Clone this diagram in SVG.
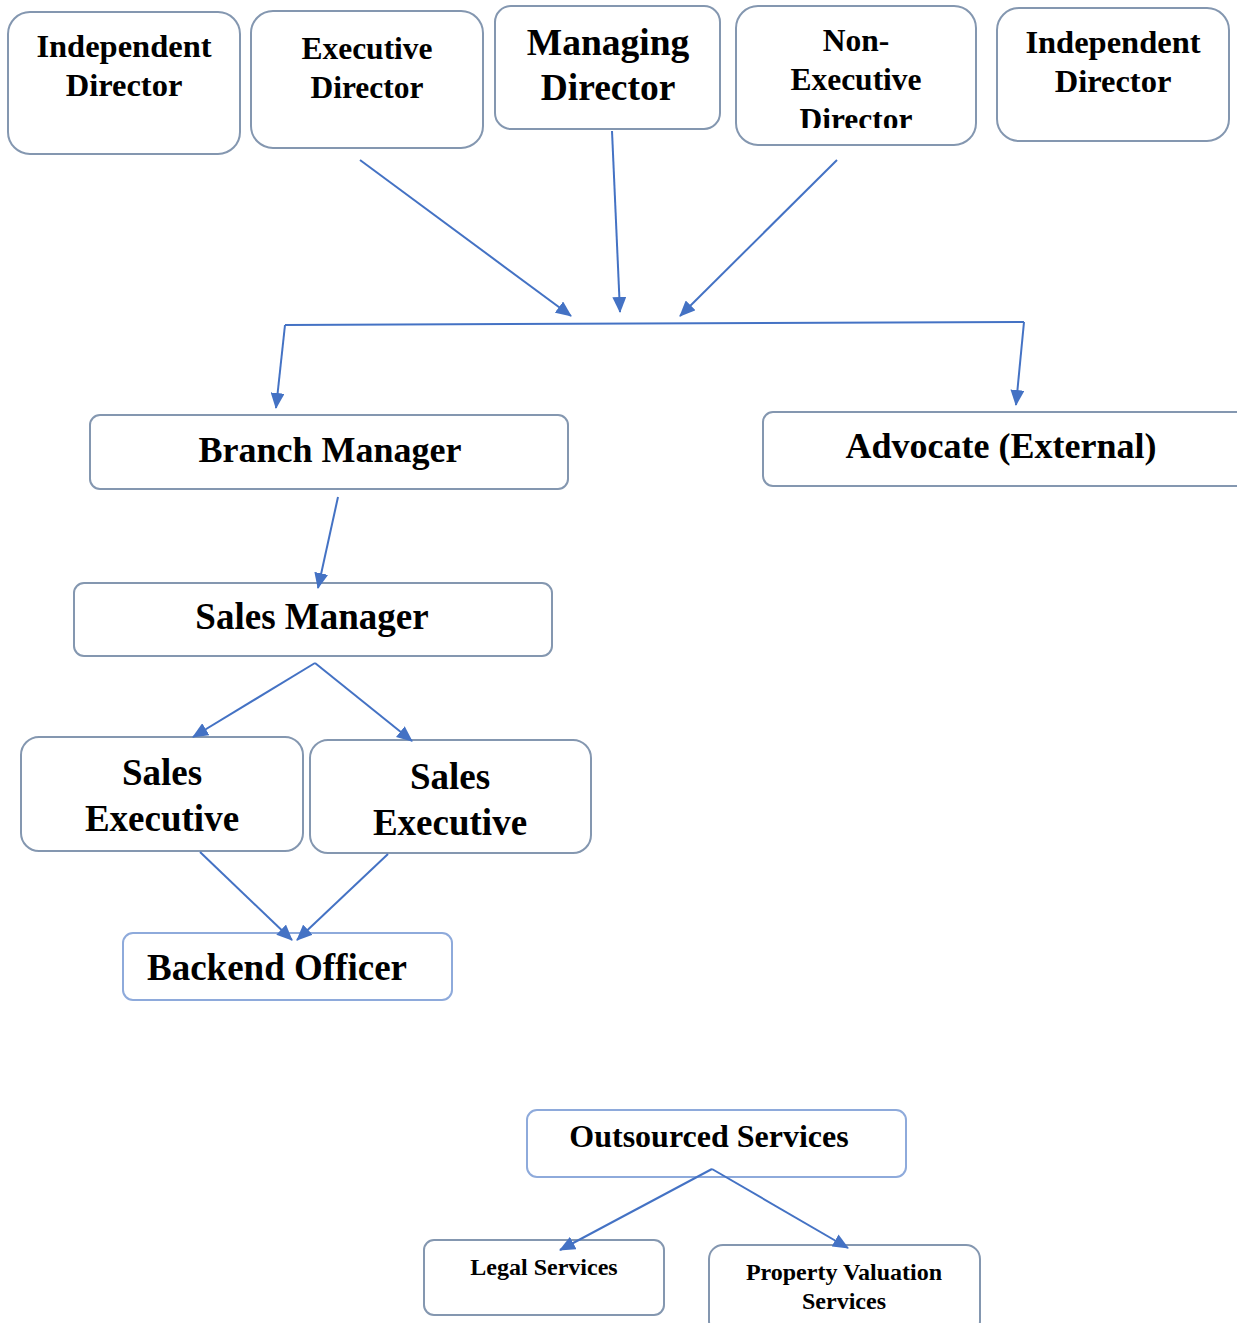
<svg xmlns="http://www.w3.org/2000/svg" width="1237" height="1323" viewBox="0 0 1237 1323">
<style>
.box{fill:#fff;stroke:#8497b0;stroke-width:2}
.box2{fill:#fff;stroke:#8eaadb;stroke-width:2}
.t{font-family:"Liberation Serif","Times New Roman",serif;font-weight:bold;fill:#000;text-anchor:middle}
.c{fill:none;stroke:#4472c4;stroke-width:2}
</style>
<defs>
<marker id="ah" markerUnits="userSpaceOnUse" markerWidth="16" markerHeight="14" refX="15" refY="7" orient="auto">
<path d="M0,0 L16,7 L0,14 z" fill="#4472c4"/>
</marker>
<clipPath id="nclip"><rect x="736" y="6" width="241" height="122"/></clipPath>
</defs>
<g id="n1"><rect class="box" x="8" y="12" width="232" height="142" rx="22"/>
<text class="t" x="124" y="57" font-size="32.5">Independent</text><text class="t" x="124" y="96" font-size="32.5">Director</text></g>
<g id="n2"><rect class="box" x="251" y="11" width="232" height="137" rx="22"/>
<text class="t" x="367" y="59" font-size="31.5">Executive</text><text class="t" x="367" y="98" font-size="31.5">Director</text></g>
<g id="n3"><rect class="box" x="495" y="6" width="225" height="123" rx="16"/>
<text class="t" x="608" y="55" font-size="37.5">Managing</text><text class="t" x="608" y="100" font-size="37.5">Director</text></g>
<g id="n4"><rect class="box" x="736" y="6" width="240" height="139" rx="22"/>
<g clip-path="url(#nclip)"><text class="t" x="856" y="51" font-size="31.5">Non-</text><text class="t" x="856" y="90" font-size="31.5">Executive</text><text class="t" x="856" y="130" font-size="31.5">Director</text></g></g>
<g id="n5"><rect class="box" x="997" y="8" width="232" height="133" rx="22"/>
<text class="t" x="1113" y="53" font-size="32.5">Independent</text><text class="t" x="1113" y="92" font-size="32.5">Director</text></g>
<g id="n6"><rect class="box" x="90" y="415" width="478" height="74" rx="10"/>
<text class="t" x="330" y="462" font-size="36">Branch Manager</text></g>
<g id="n7"><rect class="box" x="763" y="412" width="490" height="74" rx="10"/>
<text class="t" x="1001" y="458" font-size="36">Advocate (External)</text></g>
<g id="n8"><rect class="box" x="74" y="583" width="478" height="73" rx="10"/>
<text class="t" x="312" y="629" font-size="37">Sales Manager</text></g>
<g id="n9"><rect class="box" x="21" y="737" width="282" height="114" rx="18"/>
<text class="t" x="162" y="785" font-size="37">Sales</text><text class="t" x="162" y="831" font-size="37">Executive</text></g>
<g id="n10"><rect class="box" x="310" y="740" width="281" height="113" rx="18"/>
<text class="t" x="450" y="789" font-size="37">Sales</text><text class="t" x="450" y="835" font-size="37">Executive</text></g>
<g id="n11"><rect class="box2" x="123" y="933" width="329" height="67" rx="10"/>
<text class="t" x="277" y="980" font-size="37">Backend Officer</text></g>
<g id="n12"><rect class="box2" x="527" y="1110" width="379" height="67" rx="10"/>
<text class="t" x="709" y="1147" font-size="32">Outsourced Services</text></g>
<g id="n13"><rect class="box" x="424" y="1240" width="240" height="75" rx="10"/>
<text class="t" x="544" y="1275" font-size="24">Legal Services</text></g>
<g id="n14"><rect class="box" x="709" y="1245" width="271" height="90" rx="14"/>
<text class="t" x="844" y="1280" font-size="24">Property Valuation</text><text class="t" x="844" y="1309" font-size="24">Services</text></g>
<g id="connectors">
<line class="c" x1="360" y1="160" x2="571" y2="316" marker-end="url(#ah)"/>
<line class="c" x1="612" y1="131" x2="620" y2="312" marker-end="url(#ah)"/>
<line class="c" x1="837" y1="160" x2="680" y2="316" marker-end="url(#ah)"/>
<line class="c" x1="285" y1="325" x2="1024" y2="322"/>
<line class="c" x1="285" y1="325" x2="276" y2="408" marker-end="url(#ah)"/>
<line class="c" x1="1024" y1="322" x2="1016" y2="405" marker-end="url(#ah)"/>
<line class="c" x1="338" y1="497" x2="318" y2="588" marker-end="url(#ah)"/>
<line class="c" x1="315" y1="663" x2="193" y2="737" marker-end="url(#ah)"/>
<line class="c" x1="315" y1="663" x2="412" y2="741" marker-end="url(#ah)"/>
<line class="c" x1="200" y1="852" x2="292" y2="940" marker-end="url(#ah)"/>
<line class="c" x1="388" y1="854" x2="297" y2="940" marker-end="url(#ah)"/>
<line class="c" x1="712" y1="1169" x2="560" y2="1250" marker-end="url(#ah)"/>
<line class="c" x1="712" y1="1169" x2="848" y2="1248" marker-end="url(#ah)"/>
</g>
</svg>
